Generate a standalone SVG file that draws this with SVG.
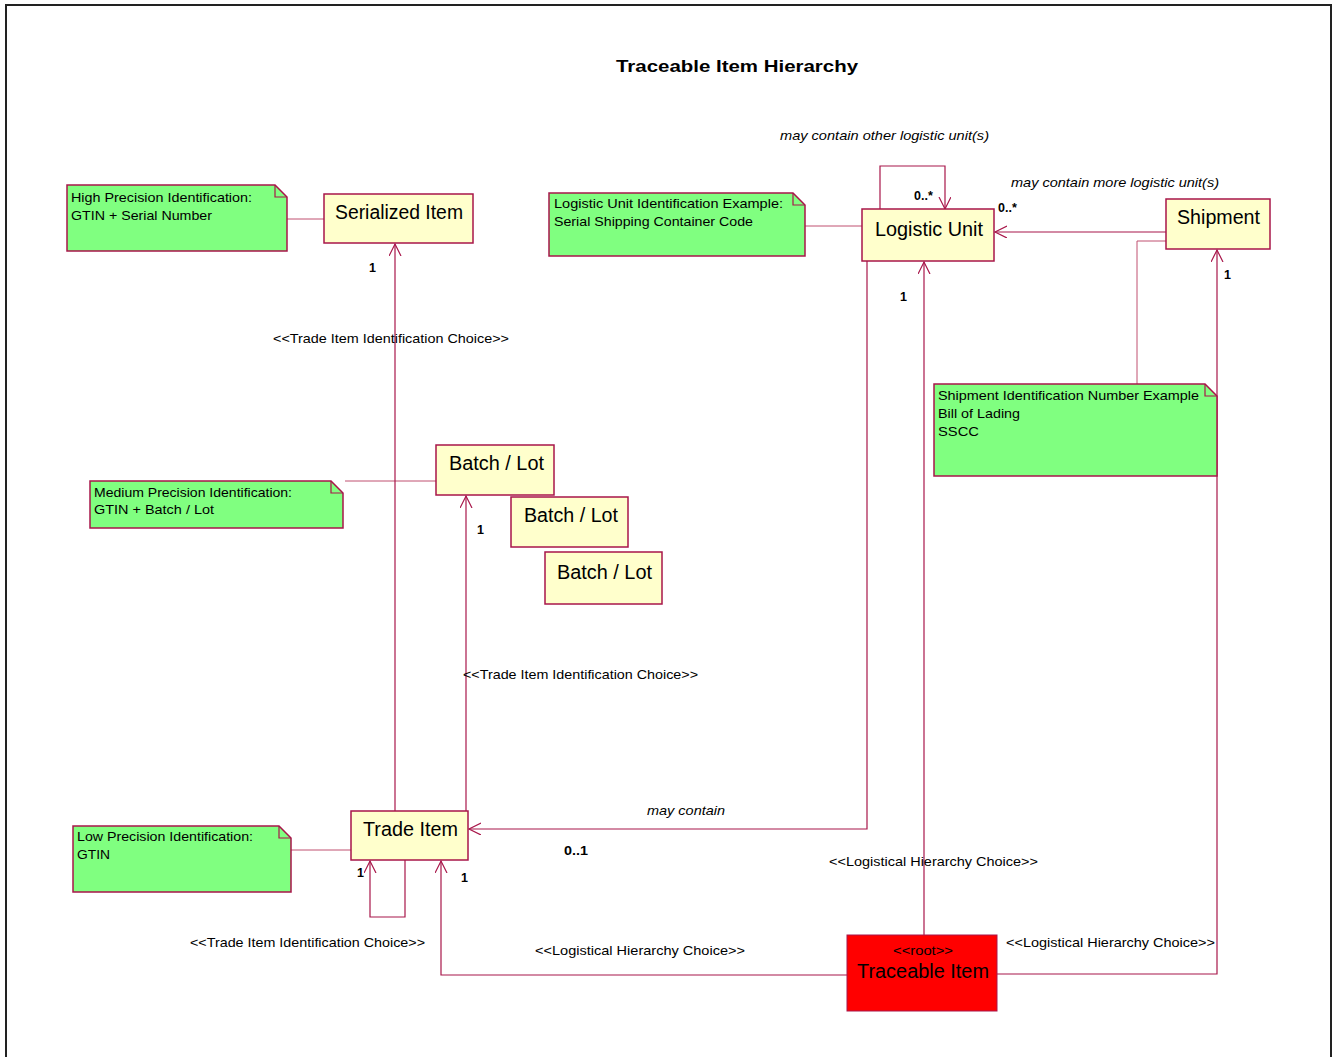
<svg xmlns="http://www.w3.org/2000/svg" width="1335" height="1057" viewBox="0 0 1335 1057">
<style>
text{font-family:"Liberation Sans",Arial,sans-serif;fill:#000}
.cls{fill:#FFFFCC;stroke:#A8164A;stroke-width:1.5}
.note{fill:#80FF80;stroke:#A8164A;stroke-width:1.5}
.fold{fill:none;stroke:#A8164A;stroke-width:1.2}
.name{font-size:19.5px}
.nt{font-size:13.5px}
.lbl{font-size:13px}
.it{font-size:13px;font-style:italic}
.mult{font-size:12.5px;font-weight:bold}
.ln{fill:none;stroke:#A8164A;stroke-width:1.2}
.anc{fill:none;stroke:#C05070;stroke-width:1}
</style>
<defs>
<marker id="arr" markerUnits="userSpaceOnUse" markerWidth="14" markerHeight="14" refX="12" refY="6" orient="auto">
<path d="M0,0 L12,6 L0,12" fill="none" stroke="#A8164A" stroke-width="1.2"/>
</marker>
</defs>
<rect x="6" y="5" width="1325" height="1060" fill="#fff" stroke="#222" stroke-width="2"/>
<text x="616" y="72" font-size="17" font-weight="bold" textLength="242" lengthAdjust="spacingAndGlyphs">Traceable Item Hierarchy</text>

<g id="connectors">
<line class="anc" x1="287" y1="219" x2="324" y2="219"/>
<line class="anc" x1="805" y1="226" x2="862" y2="226"/>
<polyline class="anc" points="1166,241 1137,241 1137,384"/>
<line class="anc" x1="345" y1="481" x2="436" y2="481"/>
<line class="anc" x1="291" y1="850" x2="351" y2="850"/>
<polyline class="ln" points="880,209 880,166 945,166 945,209" marker-end="url(#arr)"/>
<line class="ln" x1="1166" y1="232" x2="995" y2="232" marker-end="url(#arr)"/>
<polyline class="ln" points="867,261 867,829 469,829" marker-end="url(#arr)"/>
<line class="ln" x1="924" y1="935" x2="924" y2="262" marker-end="url(#arr)"/>
<polyline class="ln" points="997,974 1217,974 1217,250" marker-end="url(#arr)"/>
<polyline class="ln" points="847,975 441,975 441,861" marker-end="url(#arr)"/>
<polyline class="ln" points="405,860 405,917 370,917 370,861" marker-end="url(#arr)"/>
<line class="ln" x1="395" y1="811" x2="395" y2="244" marker-end="url(#arr)"/>
<line class="ln" x1="466" y1="811" x2="466" y2="496" marker-end="url(#arr)"/>
<text class="it" x="780" y="140" textLength="209" lengthAdjust="spacingAndGlyphs">may contain other logistic unit(s)</text>
<text class="mult" x="914" y="200">0..*</text>
<text class="it" x="1011" y="187" textLength="208" lengthAdjust="spacingAndGlyphs">may contain more logistic unit(s)</text>
<text class="mult" x="998" y="212">0..*</text>
<text class="mult" x="1224" y="279">1</text>
<text class="mult" x="900" y="301">1</text>
<text class="mult" x="369" y="272">1</text>
<text class="lbl" x="273" y="343" textLength="236" lengthAdjust="spacingAndGlyphs">&lt;&lt;Trade Item Identification Choice&gt;&gt;</text>
<text class="mult" x="477" y="534">1</text>
<text class="lbl" x="463" y="679" textLength="235" lengthAdjust="spacingAndGlyphs">&lt;&lt;Trade Item Identification Choice&gt;&gt;</text>
<text class="it" x="647" y="815" textLength="78" lengthAdjust="spacingAndGlyphs">may contain</text>
<text class="mult" x="564" y="855" textLength="24" lengthAdjust="spacingAndGlyphs">0..1</text>
<text class="lbl" x="829" y="866" textLength="209" lengthAdjust="spacingAndGlyphs">&lt;&lt;Logistical Hierarchy Choice&gt;&gt;</text>
<text class="mult" x="357" y="877">1</text>
<text class="mult" x="461" y="882">1</text>
<text class="lbl" x="190" y="947" textLength="235" lengthAdjust="spacingAndGlyphs">&lt;&lt;Trade Item Identification Choice&gt;&gt;</text>
<text class="lbl" x="535" y="955" textLength="210" lengthAdjust="spacingAndGlyphs">&lt;&lt;Logistical Hierarchy Choice&gt;&gt;</text>
<text class="lbl" x="1006" y="947" textLength="209" lengthAdjust="spacingAndGlyphs">&lt;&lt;Logistical Hierarchy Choice&gt;&gt;</text>
</g>

<g id="note-high">
<path class="note" d="M67,185 H275 L287,197 V251 H67 Z"/>
<path class="fold" d="M275,185 V197 H287"/>
<text class="nt" x="71" y="202" textLength="181" lengthAdjust="spacingAndGlyphs">High Precision Identification:</text>
<text class="nt" x="71" y="220" textLength="141" lengthAdjust="spacingAndGlyphs">GTIN + Serial Number</text>
</g>
<g id="serialized-item">
<rect class="cls" x="324" y="194" width="149" height="49"/>
<text class="name" x="335" y="219" textLength="128" lengthAdjust="spacingAndGlyphs">Serialized Item</text>
</g>

<g id="note-logistic">
<path class="note" d="M549,193 H793 L805,205 V256 H549 Z"/>
<path class="fold" d="M793,193 V205 H805"/>
<text class="nt" x="554" y="208" textLength="229" lengthAdjust="spacingAndGlyphs">Logistic Unit Identification Example:</text>
<text class="nt" x="554" y="226" textLength="199" lengthAdjust="spacingAndGlyphs">Serial Shipping Container Code</text>
</g>
<g id="logistic-unit">
<rect class="cls" x="862" y="209" width="132" height="52"/>
<text class="name" x="875" y="236" textLength="108" lengthAdjust="spacingAndGlyphs">Logistic Unit</text>
</g>

<g id="shipment">
<rect class="cls" x="1166" y="199" width="104" height="50"/>
<text class="name" x="1177" y="224" textLength="83" lengthAdjust="spacingAndGlyphs">Shipment</text>
</g>
<g id="note-shipment">
<path class="note" d="M934,384 H1205 L1217,396 V476 H934 Z"/>
<path class="fold" d="M1205,384 V396 H1217"/>
<text class="nt" x="938" y="400" textLength="261" lengthAdjust="spacingAndGlyphs">Shipment Identification Number Example</text>
<text class="nt" x="938" y="418" textLength="82" lengthAdjust="spacingAndGlyphs">Bill of Lading</text>
<text class="nt" x="938" y="436" textLength="41" lengthAdjust="spacingAndGlyphs">SSCC</text>
</g>

<g id="note-medium">
<path class="note" d="M90,481 H331 L343,493 V528 H90 Z"/>
<path class="fold" d="M331,481 V493 H343"/>
<text class="nt" x="94" y="497" textLength="198" lengthAdjust="spacingAndGlyphs">Medium Precision Identification:</text>
<text class="nt" x="94" y="514" textLength="120" lengthAdjust="spacingAndGlyphs">GTIN + Batch / Lot</text>
</g>
<g id="batch-lot-1">
<rect class="cls" x="436" y="445" width="118" height="50"/>
<text class="name" x="449" y="470" textLength="95" lengthAdjust="spacingAndGlyphs">Batch / Lot</text>
</g>
<g id="batch-lot-2">
<rect class="cls" x="511" y="497" width="117" height="50"/>
<text class="name" x="524" y="522" textLength="94" lengthAdjust="spacingAndGlyphs">Batch / Lot</text>
</g>
<g id="batch-lot-3">
<rect class="cls" x="545" y="552" width="117" height="52"/>
<text class="name" x="557" y="579" textLength="95" lengthAdjust="spacingAndGlyphs">Batch / Lot</text>
</g>

<g id="note-low">
<path class="note" d="M73,826 H279 L291,838 V892 H73 Z"/>
<path class="fold" d="M279,826 V838 H291"/>
<text class="nt" x="77" y="841" textLength="176" lengthAdjust="spacingAndGlyphs">Low Precision Identification:</text>
<text class="nt" x="77" y="859" textLength="33" lengthAdjust="spacingAndGlyphs">GTIN</text>
</g>
<g id="trade-item">
<rect class="cls" x="351" y="811" width="117" height="49"/>
<text class="name" x="363" y="836" textLength="95" lengthAdjust="spacingAndGlyphs">Trade Item</text>
</g>

<g id="traceable-item">
<rect x="847" y="935" width="150" height="76" fill="#FF0000" stroke="#A8164A" stroke-width="1"/>
<text x="893" y="955" font-size="12" textLength="60" lengthAdjust="spacingAndGlyphs">&lt;&lt;root&gt;&gt;</text>
<text class="name" x="857" y="978" textLength="132" lengthAdjust="spacingAndGlyphs">Traceable Item</text>
</g>
</svg>
